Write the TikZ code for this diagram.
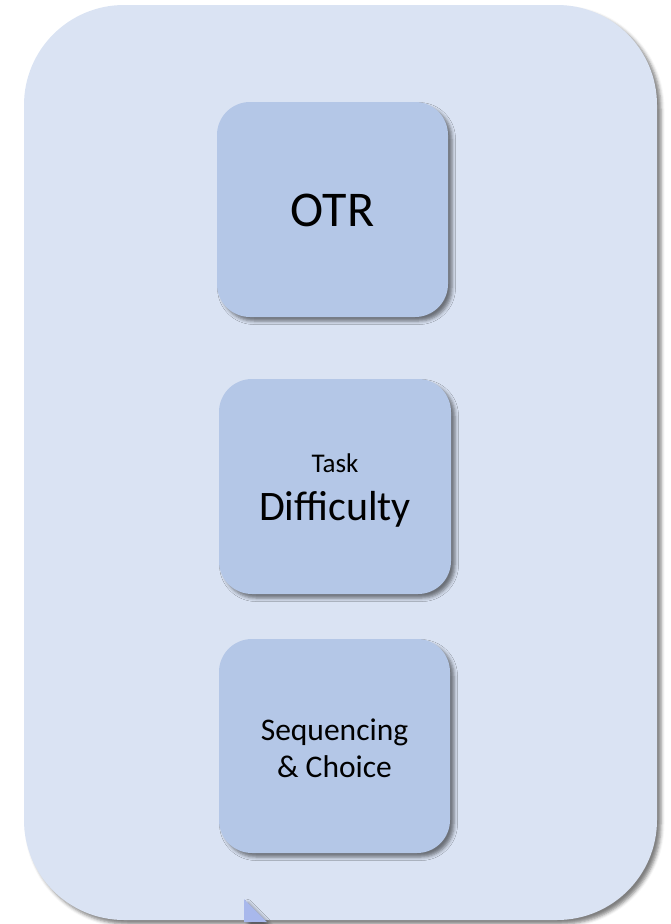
\documentclass[tikz,border=0pt]{standalone}
\usepackage{fontspec}
\setmainfont{Carlito}
\usetikzlibrary{shadows.blur}
\definecolor{panelfill}{HTML}{DAE3F3}
\definecolor{boxfill}{HTML}{B4C7E7}
\definecolor{tailfill}{HTML}{A8B8EC}
\tikzset{
  softshadow/.style={blur shadow={shadow xshift=4pt, shadow yshift=-4pt, shadow blur radius=3.5pt, shadow opacity=50}},
  panel/.style={rectangle, fill=panelfill, rounded corners=100pt, softshadow,
    minimum width=633pt, minimum height=915pt, inner sep=0pt},
  itembox/.style={rectangle, fill=boxfill, rounded corners=33pt, softshadow,
    minimum width=231pt, minimum height=215pt, inner sep=0pt},
  itemlabel/.style={inner sep=0pt, align=center, text=black}
}
\begin{document}
\begin{tikzpicture}[x=1pt, y=-1pt]
  \useasboundingbox (0,0) rectangle (670,924);
  % outer panel
  \node[panel] (panel) at (340.5,462.5) {};
  % small pointer tail at the bottom edge
  \coordinate (tip) at (244,899);
  \coordinate (tbase) at (244,922);
  \coordinate (tright) at (267,922);
  \fill[tailfill, softshadow] (tip) -- (tright) -- (tbase) -- cycle;
  % stacked items
  \node[itembox] (otr) at (332.5,209.5) {};
  \node[itemlabel, font=\fontsize{50}{60}\selectfont] (otrlabel) at ([yshift=-1pt]otr.center) {OTR};
  \node[itembox, minimum width=232pt] (task) at (335,486.5) {};
  \node[itemlabel, font=\fontsize{42}{48}\selectfont] (tasklabel) at ([yshift=-4pt]task.center)
    {{\fontsize{27}{32}\selectfont Task}\\Difficulty};
  \node[itembox, minimum height=214pt] (seq) at (334.5,746) {};
  \node[itemlabel, font=\fontsize{31.5}{37}\selectfont] (seqlabel) at ([yshift=-2pt]seq.center)
    {Sequencing\\\& Choice};
\end{tikzpicture}
\end{document}
